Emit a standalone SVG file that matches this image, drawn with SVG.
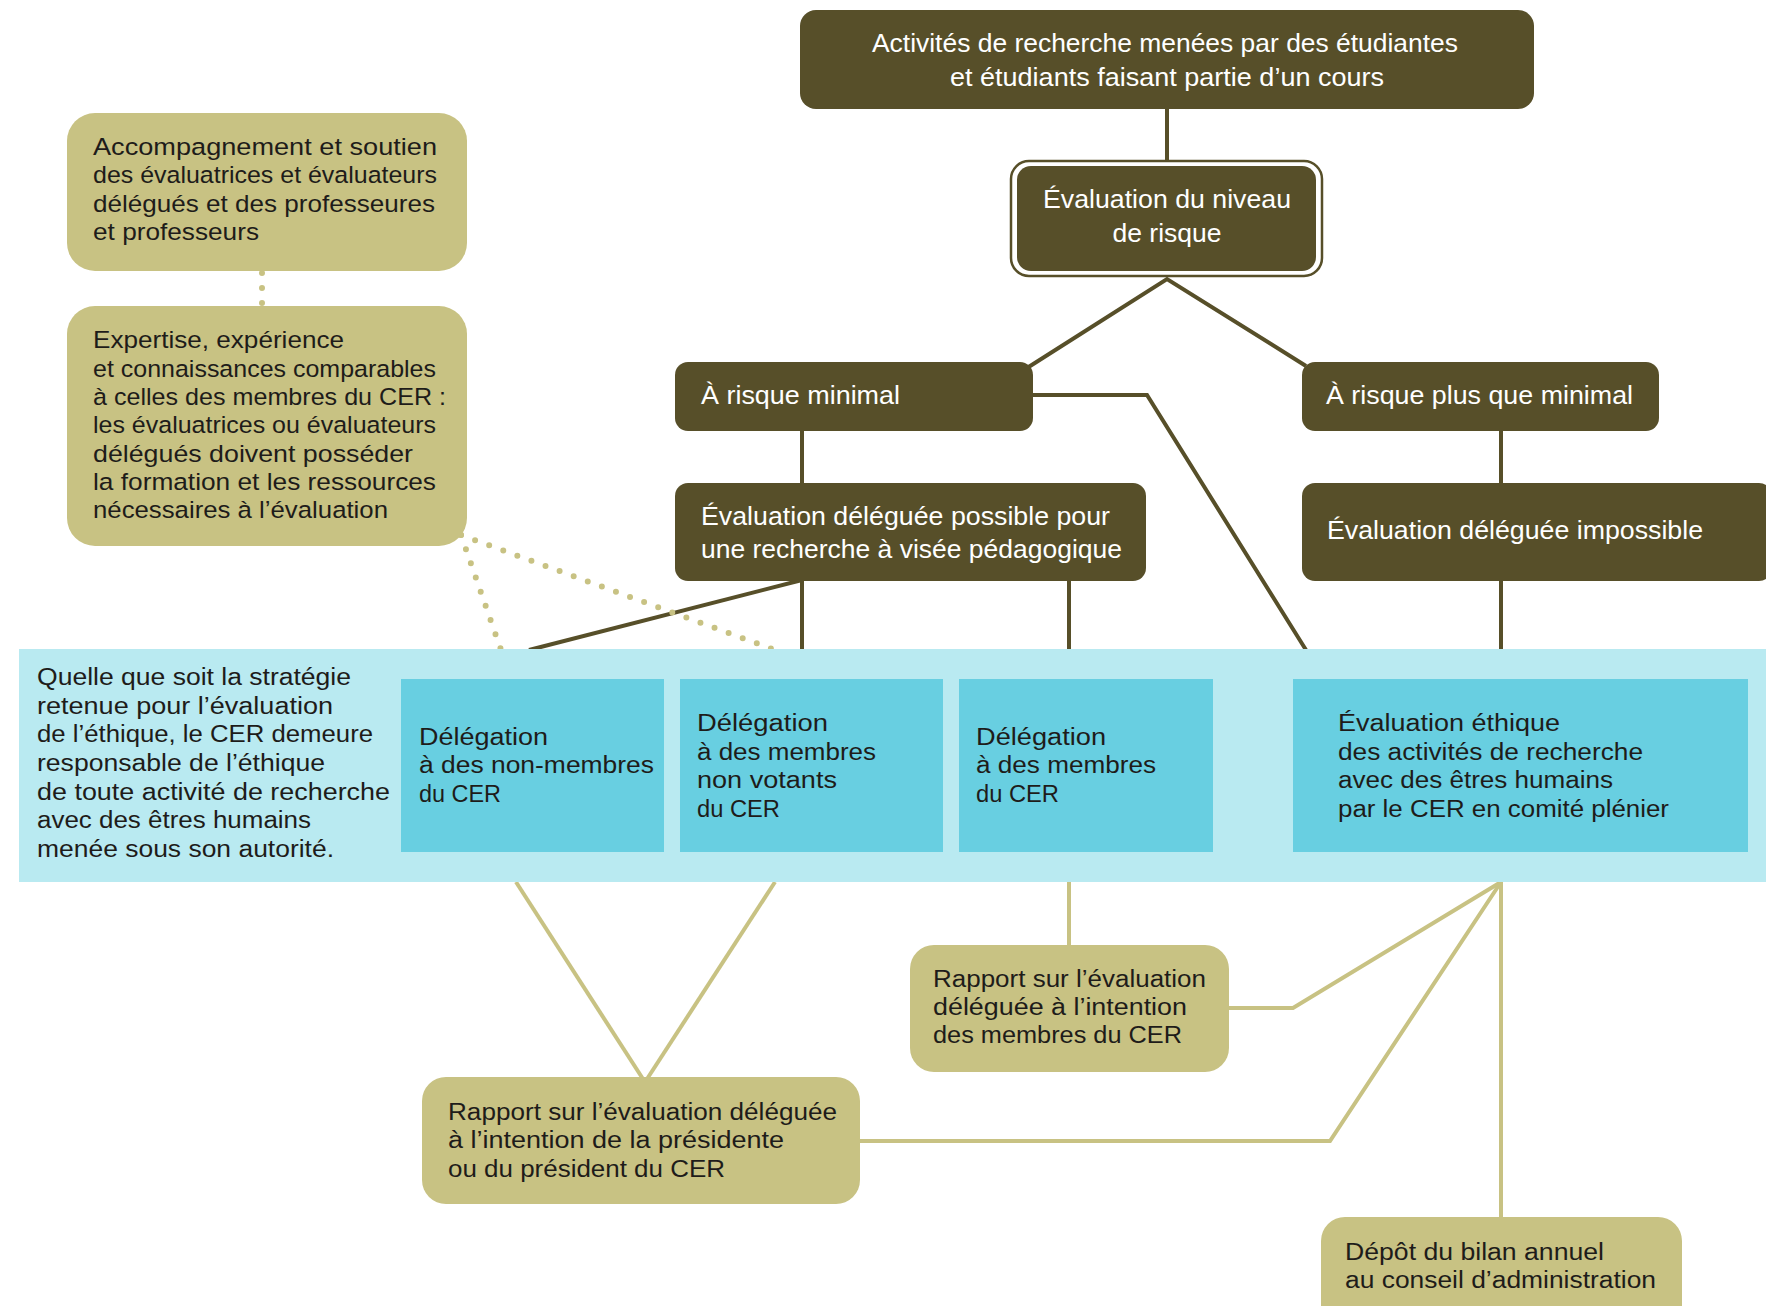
<svg xmlns="http://www.w3.org/2000/svg" width="1766" height="1306" viewBox="0 0 1766 1306">
<style>
.dk{fill:#574f29}
.tan{fill:#c8c283}
.band{fill:#b9eaf1}
.cy{fill:#68cfe1}
text{font-family:"Liberation Sans",Arial,sans-serif}
.wt{fill:#ffffff;font-size:25.5px}
.bk{fill:#1e1c1a;font-size:23.5px}
.bk2{fill:#1e1c1a;font-size:24.5px}
.c{text-anchor:middle}
.ld{stroke:#574f29;stroke-width:4;fill:none}
.lt{stroke:#c8c283;stroke-width:4;fill:none}
.dot{stroke:#c8c283;stroke-width:6;stroke-linecap:round;stroke-dasharray:0 15;fill:none}
</style>
<rect width="1766" height="1306" fill="#ffffff"/>
<g id="connectors">
<line class="ld" x1="1167" y1="109" x2="1167" y2="162"/>
<polyline class="ld" points="1027,368 1167,279 1306,366"/>
<polyline class="ld" points="1030,395 1147,395 1306,650"/>
<line class="ld" x1="802" y1="430" x2="802" y2="484"/>
<line class="ld" x1="1501" y1="430" x2="1501" y2="484"/>
<line class="ld" x1="802" y1="580" x2="529" y2="650"/>
<line class="ld" x1="802" y1="580" x2="802" y2="650"/>
<line class="ld" x1="1069" y1="580" x2="1069" y2="650"/>
<line class="ld" x1="1501" y1="580" x2="1501" y2="650"/>
<line class="lt" x1="516" y1="882" x2="643" y2="1079"/>
<line class="lt" x1="775" y1="882" x2="647" y2="1079"/>
<line class="lt" x1="1069" y1="882" x2="1069" y2="946"/>
<polyline class="lt" points="1228,1008 1293,1008 1501,882"/>
<polyline class="lt" points="858,1141 1330,1141 1501,882"/>
<line class="lt" x1="1501" y1="882" x2="1501" y2="1219"/>
<line class="dot" x1="262" y1="273" x2="262" y2="305"/>
<line class="dot" x1="461" y1="535" x2="775" y2="650"/>
<line class="dot" x1="461" y1="535" x2="501" y2="650"/>
</g>
<g id="n-activites">
<rect class="dk" x="800" y="10" width="734" height="99" rx="16"/>
<text class="wt c" x="1165" y="52" textLength="586" lengthAdjust="spacingAndGlyphs">Activités de recherche menées par des étudiantes</text>
<text class="wt c" x="1167" y="86" textLength="434" lengthAdjust="spacingAndGlyphs">et étudiants faisant partie d’un cours</text>
</g>
<g id="n-evaluation-risque">
<rect x="1011" y="161" width="311" height="115" rx="18" fill="#ffffff" stroke="#574f29" stroke-width="2.5"/>
<rect class="dk" x="1017" y="166" width="299" height="105" rx="14"/>
<text class="wt c" x="1167" y="208" textLength="248" lengthAdjust="spacingAndGlyphs">Évaluation du niveau</text>
<text class="wt c" x="1167" y="242" textLength="109" lengthAdjust="spacingAndGlyphs">de risque</text>
</g>
<g id="n-risque-minimal">
<rect class="dk" x="675" y="362" width="358" height="69" rx="13"/>
<text class="wt" x="701" y="404" textLength="199" lengthAdjust="spacingAndGlyphs">À risque minimal</text>
</g>
<g id="n-risque-plus">
<rect class="dk" x="1302" y="362" width="357" height="69" rx="13"/>
<text class="wt" x="1326" y="404" textLength="307" lengthAdjust="spacingAndGlyphs">À risque plus que minimal</text>
</g>
<g id="n-deleguee-possible">
<rect class="dk" x="675" y="483" width="471" height="98" rx="13"/>
<text class="wt" x="701" y="525" textLength="409" lengthAdjust="spacingAndGlyphs">Évaluation déléguée possible pour</text>
<text class="wt" x="701" y="558" textLength="421" lengthAdjust="spacingAndGlyphs">une recherche à visée pédagogique</text>
</g>
<g id="n-deleguee-impossible">
<rect class="dk" x="1302" y="483" width="470" height="98" rx="13"/>
<text class="wt" x="1327" y="539" textLength="376" lengthAdjust="spacingAndGlyphs">Évaluation déléguée impossible</text>
</g>
<g id="n-accompagnement">
<rect class="tan" x="67" y="113" width="400" height="158" rx="28"/>
<text class="bk2" x="93" y="155" textLength="344" lengthAdjust="spacingAndGlyphs">Accompagnement et soutien</text>
<text class="bk2" x="93" y="183" textLength="344" lengthAdjust="spacingAndGlyphs">des évaluatrices et évaluateurs</text>
<text class="bk2" x="93" y="212" textLength="342" lengthAdjust="spacingAndGlyphs">délégués et des professeures</text>
<text class="bk2" x="93" y="240" textLength="166" lengthAdjust="spacingAndGlyphs">et professeurs</text>
</g>
<g id="n-expertise">
<rect class="tan" x="67" y="306" width="400" height="240" rx="28"/>
<text class="bk2" x="93" y="348" textLength="251" lengthAdjust="spacingAndGlyphs">Expertise, expérience</text>
<text class="bk2" x="93" y="377" textLength="343" lengthAdjust="spacingAndGlyphs">et connaissances comparables</text>
<text class="bk2" x="93" y="405" textLength="353" lengthAdjust="spacingAndGlyphs">à celles des membres du CER :</text>
<text class="bk2" x="93" y="433" textLength="343" lengthAdjust="spacingAndGlyphs">les évaluatrices ou évaluateurs</text>
<text class="bk2" x="93" y="462" textLength="320" lengthAdjust="spacingAndGlyphs">délégués doivent posséder</text>
<text class="bk2" x="93" y="490" textLength="343" lengthAdjust="spacingAndGlyphs">la formation et les ressources</text>
<text class="bk2" x="93" y="518" textLength="295" lengthAdjust="spacingAndGlyphs">nécessaires à l’évaluation</text>
</g>
<g id="n-cer-band">
<rect class="band" x="19" y="649" width="1747" height="233"/>
<text class="bk" x="37" y="685" textLength="314" lengthAdjust="spacingAndGlyphs">Quelle que soit la stratégie</text>
<text class="bk" x="37" y="714" textLength="296" lengthAdjust="spacingAndGlyphs">retenue pour l’évaluation</text>
<text class="bk" x="37" y="742" textLength="336" lengthAdjust="spacingAndGlyphs">de l’éthique, le CER demeure</text>
<text class="bk" x="37" y="771" textLength="288" lengthAdjust="spacingAndGlyphs">responsable de l’éthique</text>
<text class="bk" x="37" y="800" textLength="353" lengthAdjust="spacingAndGlyphs">de toute activité de recherche</text>
<text class="bk" x="37" y="828" textLength="274" lengthAdjust="spacingAndGlyphs">avec des êtres humains</text>
<text class="bk" x="37" y="857" textLength="297" lengthAdjust="spacingAndGlyphs">menée sous son autorité.</text>
</g>
<g id="n-non-membres">
<rect class="cy" x="401" y="679" width="263" height="173"/>
<text class="bk" x="419" y="745" textLength="129" lengthAdjust="spacingAndGlyphs">Délégation</text>
<text class="bk" x="419" y="773" textLength="235" lengthAdjust="spacingAndGlyphs">à des non-membres</text>
<text class="bk" x="419" y="802" textLength="82" lengthAdjust="spacingAndGlyphs">du CER</text>
</g>
<g id="n-non-votants">
<rect class="cy" x="680" y="679" width="263" height="173"/>
<text class="bk" x="697" y="731" textLength="131" lengthAdjust="spacingAndGlyphs">Délégation</text>
<text class="bk" x="697" y="760" textLength="179" lengthAdjust="spacingAndGlyphs">à des membres</text>
<text class="bk" x="697" y="788" textLength="140" lengthAdjust="spacingAndGlyphs">non votants</text>
<text class="bk" x="697" y="817" textLength="83" lengthAdjust="spacingAndGlyphs">du CER</text>
</g>
<g id="n-membres">
<rect class="cy" x="959" y="679" width="254" height="173"/>
<text class="bk" x="976" y="745" textLength="130" lengthAdjust="spacingAndGlyphs">Délégation</text>
<text class="bk" x="976" y="773" textLength="180" lengthAdjust="spacingAndGlyphs">à des membres</text>
<text class="bk" x="976" y="802" textLength="83" lengthAdjust="spacingAndGlyphs">du CER</text>
</g>
<g id="n-comite-plenier">
<rect class="cy" x="1293" y="679" width="455" height="173"/>
<text class="bk" x="1338" y="731" textLength="222" lengthAdjust="spacingAndGlyphs">Évaluation éthique</text>
<text class="bk" x="1338" y="760" textLength="305" lengthAdjust="spacingAndGlyphs">des activités de recherche</text>
<text class="bk" x="1338" y="788" textLength="275" lengthAdjust="spacingAndGlyphs">avec des êtres humains</text>
<text class="bk" x="1338" y="817" textLength="331" lengthAdjust="spacingAndGlyphs">par le CER en comité plénier</text>
</g>
<g id="n-rapport-membres">
<rect class="tan" x="910" y="945" width="319" height="127" rx="24"/>
<text class="bk" x="933" y="987" textLength="273" lengthAdjust="spacingAndGlyphs">Rapport sur l’évaluation</text>
<text class="bk" x="933" y="1015" textLength="254" lengthAdjust="spacingAndGlyphs">déléguée à l’intention</text>
<text class="bk" x="933" y="1043" textLength="249" lengthAdjust="spacingAndGlyphs">des membres du CER</text>
</g>
<g id="n-rapport-president">
<rect class="tan" x="422" y="1077" width="438" height="127" rx="24"/>
<text class="bk" x="448" y="1120" textLength="389" lengthAdjust="spacingAndGlyphs">Rapport sur l’évaluation déléguée</text>
<text class="bk" x="448" y="1148" textLength="336" lengthAdjust="spacingAndGlyphs">à l’intention de la présidente</text>
<text class="bk" x="448" y="1177" textLength="277" lengthAdjust="spacingAndGlyphs">ou du président du CER</text>
</g>
<g id="n-depot">
<rect class="tan" x="1321" y="1217" width="361" height="120" rx="24"/>
<text class="bk" x="1345" y="1260" textLength="259" lengthAdjust="spacingAndGlyphs">Dépôt du bilan annuel</text>
<text class="bk" x="1345" y="1288" textLength="311" lengthAdjust="spacingAndGlyphs">au conseil d’administration</text>
</g>
</svg>
